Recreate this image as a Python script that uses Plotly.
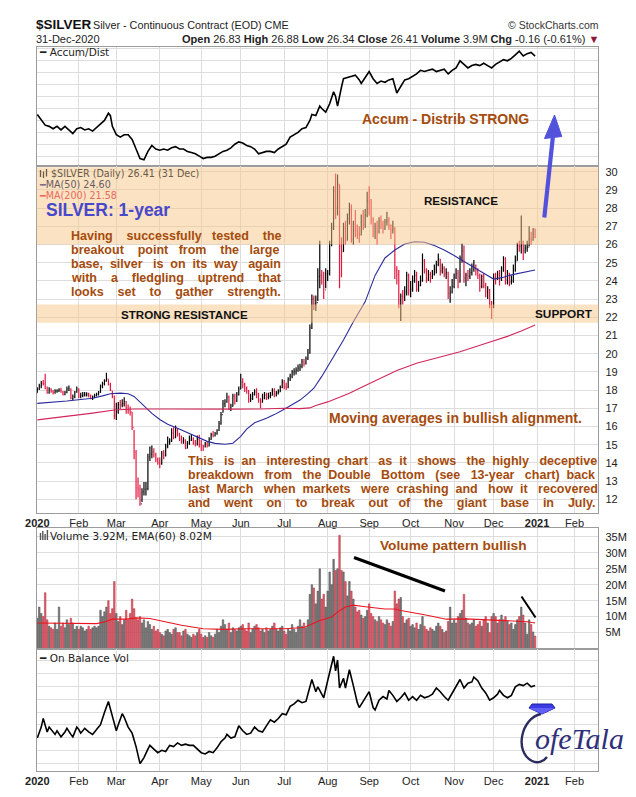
import pandas as pd
import plotly.graph_objects as go

# ---------------------------------------------------------------- data
holidays = ["2020-01-20", "2020-02-17", "2020-04-10", "2020-05-25", "2020-07-03",
            "2020-09-07", "2020-11-26", "2020-12-25", "2021-01-01", "2021-01-18",
            "2021-02-15"]

close_jan = [18.07, 18.21, 18.37, 18.35, 18.10, 17.86, 18.06, 17.93, 17.84, 17.93, 17.95, 18.02, 17.88, 17.77, 17.86, 18.07, 18.07, 17.53, 17.63, 17.88, 18.05]
high_jan = [18.15, 18.35, 18.50, 18.55, 18.90, 18.20, 18.15, 18.10, 18.00, 18.05, 18.05, 18.10, 18.12, 17.95, 17.95, 18.20, 18.25, 18.10, 17.75, 17.95, 18.20]
low_jan = [17.85, 18.00, 18.10, 18.25, 18.05, 17.80, 17.80, 17.85, 17.75, 17.80, 17.85, 17.90, 17.85, 17.70, 17.72, 17.82, 17.95, 17.50, 17.45, 17.55, 17.85]

close_feb = [17.67, 17.69, 17.74, 17.75, 17.78, 17.72, 17.55, 17.63, 17.70, 17.77, 17.87, 18.23, 18.35, 18.50, 18.62, 18.30, 17.99, 17.66, 16.58]
high_feb = [18.10, 17.85, 17.90, 17.90, 17.88, 17.85, 17.75, 17.70, 17.80, 17.85, 17.95, 18.30, 18.45, 18.60, 18.95, 18.60, 18.40, 17.95, 17.70]
low_feb = [17.55, 17.55, 17.60, 17.65, 17.65, 17.60, 17.50, 17.45, 17.55, 17.65, 17.70, 17.85, 18.10, 18.25, 18.45, 18.25, 17.95, 17.55, 16.40]

close_mar = [16.80, 17.20, 17.17, 17.25, 17.37, 17.05, 16.91, 16.80, 15.93, 14.57, 12.63, 12.56, 11.74, 12.40, 12.56, 12.59, 14.32, 14.46, 14.60, 14.45, 14.17, 14.00]
high_mar = [17.30, 17.35, 17.45, 17.50, 17.60, 17.40, 17.20, 17.10, 16.80, 15.80, 14.70, 13.20, 12.80, 12.60, 12.95, 12.95, 14.50, 14.90, 14.95, 14.80, 14.55, 14.30]
low_mar = [16.35, 16.70, 16.95, 17.05, 17.10, 16.70, 16.70, 16.60, 15.80, 14.20, 12.00, 12.10, 11.64, 11.85, 12.20, 12.20, 12.50, 14.10, 14.25, 14.30, 14.05, 13.90]

close_apr = [13.95, 14.50, 14.40, 14.90, 15.15, 15.20, 15.65, 15.40, 15.80, 15.60, 15.30, 15.20, 15.25, 14.80, 15.05, 15.25, 15.30, 15.10, 15.05, 15.30, 15.00]
high_apr = [14.30, 14.65, 14.70, 15.05, 15.45, 15.35, 15.90, 15.95, 16.05, 15.90, 15.65, 15.50, 15.40, 15.30, 15.20, 15.50, 15.55, 15.40, 15.25, 15.50, 15.55]
low_apr = [13.70, 13.90, 14.20, 14.35, 14.80, 15.00, 15.15, 15.30, 15.35, 15.45, 15.20, 15.05, 15.05, 14.75, 14.80, 15.00, 15.20, 15.00, 14.90, 14.95, 14.85]

close_may = [14.95, 14.90, 15.05, 14.95, 15.30, 15.55, 15.50, 15.60, 15.80, 16.15, 16.65, 17.25, 17.35, 17.60, 17.00, 17.10, 17.65, 17.40, 17.75, 18.05]
high_may = [15.25, 15.00, 15.15, 15.15, 15.40, 15.65, 15.75, 15.70, 15.85, 16.30, 16.80, 17.45, 17.50, 17.85, 17.70, 17.25, 17.80, 17.80, 17.90, 18.20]
low_may = [14.65, 14.65, 14.85, 14.85, 14.90, 15.25, 15.40, 15.45, 15.55, 15.75, 16.10, 16.75, 17.05, 17.30, 16.90, 16.85, 17.10, 17.20, 17.35, 17.70]

close_jun = [18.45, 18.30, 18.10, 17.95, 17.50, 17.55, 17.75, 17.90, 17.80, 17.45, 17.35, 17.55, 17.70, 17.60, 17.65, 17.70, 17.95, 17.75, 17.85, 17.90, 18.15, 18.45]
high_jun = [18.90, 18.65, 18.40, 18.20, 18.00, 17.80, 17.90, 18.05, 18.10, 17.85, 17.55, 17.80, 17.90, 17.85, 17.85, 17.90, 18.10, 18.10, 17.95, 18.05, 18.25, 18.60]
low_jun = [18.05, 18.10, 17.90, 17.80, 17.30, 17.35, 17.45, 17.70, 17.55, 17.30, 17.00, 17.30, 17.50, 17.45, 17.50, 17.55, 17.70, 17.60, 17.65, 17.75, 17.90, 18.10]

close_jul = [18.20, 18.15, 18.60, 18.75, 18.95, 19.00, 19.10, 19.20, 19.30, 19.55, 19.45, 19.75, 20.05, 21.40, 23.00, 22.75, 22.80, 24.25, 24.30, 24.20, 23.50, 24.40]
high_jul = [18.55, 18.40, 18.70, 18.90, 19.10, 19.20, 19.25, 19.40, 19.45, 19.70, 19.70, 19.85, 20.25, 21.60, 23.25, 23.20, 23.20, 24.70, 26.20, 24.60, 24.50, 24.70]
low_jul = [18.05, 18.00, 18.10, 18.50, 18.65, 18.80, 18.85, 19.00, 19.05, 19.20, 19.30, 19.40, 19.65, 20.00, 21.35, 22.40, 22.35, 22.90, 23.60, 23.80, 23.00, 23.60]

close_aug = [24.40, 26.00, 26.90, 28.90, 28.00, 29.30, 25.90, 25.60, 26.90, 26.25, 27.40, 27.90, 26.30, 27.10, 26.75, 26.60, 26.55, 27.25, 27.10, 27.60, 28.40]
high_aug = [24.60, 26.20, 27.20, 29.20, 29.90, 29.85, 29.30, 26.40, 27.20, 27.30, 27.70, 28.30, 28.20, 27.30, 27.90, 27.10, 27.00, 27.65, 27.90, 27.95, 28.90]
low_aug = [24.00, 24.30, 25.90, 26.80, 27.40, 27.60, 23.60, 24.20, 25.60, 26.00, 26.20, 27.10, 26.10, 26.00, 26.40, 26.30, 26.10, 26.50, 26.80, 26.90, 27.50]

close_sep = [28.30, 27.35, 26.70, 26.85, 26.70, 27.30, 27.10, 26.90, 27.25, 27.30, 27.05, 26.80, 26.90, 24.60, 24.35, 22.95, 23.15, 23.10, 23.40, 24.30, 23.50]
high_sep = [29.20, 28.50, 27.50, 27.20, 27.30, 27.50, 27.60, 27.30, 27.40, 27.80, 27.50, 27.10, 27.30, 26.95, 24.80, 24.60, 23.30, 23.50, 23.70, 24.50, 24.40]
low_sep = [27.60, 27.10, 26.40, 26.30, 26.00, 26.60, 26.85, 26.60, 26.80, 27.05, 26.80, 26.30, 26.60, 24.10, 23.80, 22.50, 21.80, 22.70, 22.90, 23.20, 23.20]

close_oct = [23.55, 24.00, 24.30, 23.55, 23.75, 24.00, 25.10, 24.55, 24.10, 24.35, 24.25, 24.35, 24.65, 24.90, 25.20, 24.55, 24.70, 24.40, 24.45, 23.30, 23.40, 23.70]
high_oct = [24.00, 24.30, 24.60, 24.50, 24.00, 24.30, 25.50, 25.20, 24.70, 24.60, 24.50, 24.60, 24.90, 25.10, 25.50, 25.20, 24.95, 24.80, 24.70, 24.50, 23.70, 24.10]
low_oct = [23.10, 23.40, 23.90, 23.40, 23.40, 23.70, 23.95, 24.40, 23.90, 24.00, 23.90, 24.10, 24.30, 24.40, 24.80, 24.30, 24.40, 24.20, 24.10, 23.00, 22.80, 23.30]

close_nov = [24.20, 24.40, 23.95, 25.25, 25.65, 24.15, 24.30, 24.25, 24.45, 24.80, 24.85, 24.55, 24.30, 23.70, 24.25, 23.75, 23.40, 23.50, 22.70, 22.55]
high_nov = [24.40, 24.70, 24.60, 25.40, 26.05, 25.95, 24.45, 24.60, 24.70, 24.95, 25.15, 24.90, 24.70, 24.40, 24.35, 24.40, 23.90, 23.70, 23.55, 22.90]
low_nov = [23.60, 24.10, 23.60, 23.90, 25.00, 23.90, 23.70, 24.00, 24.10, 24.30, 24.50, 24.30, 24.10, 23.40, 23.60, 23.60, 23.10, 23.00, 22.50, 21.90]

close_dec = [24.20, 24.15, 24.35, 24.10, 24.65, 25.20, 24.05, 24.40, 23.95, 24.00, 24.60, 25.10, 25.95, 25.90, 25.95, 25.65, 25.80, 25.85, 26.30, 26.25, 26.57, 26.41]
high_dec = [24.40, 24.45, 24.55, 24.60, 24.80, 25.35, 25.30, 24.60, 24.45, 24.30, 24.90, 25.40, 26.10, 26.20, 27.60, 26.20, 26.00, 26.20, 27.00, 26.70, 26.90, 26.88]
low_dec = [22.50, 23.80, 24.05, 23.75, 24.00, 24.50, 23.80, 23.80, 23.70, 23.80, 23.90, 24.50, 25.10, 25.60, 25.50, 25.15, 25.50, 25.60, 25.90, 26.00, 26.20, 26.34]

prev_close_2019 = 17.85
last_open = 26.83

# volume, millions
vol_jan = [9.5, 13, 11, 10, 17.5, 9, 7, 6.5, 6, 8, 6, 13, 7, 8, 6.5, 9, 7.5, 9.5, 8, 6, 7]
vol_feb = [6, 7, 6.5, 5.5, 6, 7, 6, 6.5, 7, 6.5, 7, 12, 10, 11.5, 13, 15, 11, 12.5, 21]
vol_mar = [11, 8.5, 10, 7.5, 9, 12, 9, 11, 15.5, 12.5, 9.5, 9, 10, 8, 9, 6.5, 8.5, 7.5, 6, 7, 5.5, 6]
vol_apr = [5, 4.5, 4, 5.5, 6, 5, 4.5, 6, 6.5, 5, 5, 4, 5.5, 6, 4.5, 4, 3.5, 4.5, 4, 5, 6]
vol_may = [4.5, 3.5, 4, 3.5, 5, 4, 3.5, 4.5, 6, 5, 7, 9, 7.5, 6, 8, 5, 6.5, 6, 5.5, 6.5]
vol_jun = [7, 7.5, 6, 5.5, 8, 5, 6, 7, 7.5, 6.5, 5.5, 6, 5, 6.5, 5.5, 6, 7, 8, 6, 5.5, 6.5, 7]
vol_jul = [5.5, 4.5, 6, 5.5, 7.5, 6, 5, 7, 9, 7, 8, 6.5, 9, 17, 20, 19, 14, 18, 25, 15.5, 17, 13]
vol_aug = [18, 24, 20, 28, 24.5, 25, 35.5, 24.5, 24, 21, 16.5, 21, 18, 15.5, 13, 11.5, 12, 10.5, 9.5, 10, 12]
vol_sep = [14, 11, 10, 9, 8.5, 10, 9, 8, 7.5, 9, 8, 7, 8.5, 18, 14, 15.5, 16, 10, 8, 9, 9.5]
vol_oct = [7, 7.5, 6.5, 8, 6, 7.5, 10, 7, 6, 5.5, 6.5, 6, 5.5, 7, 8, 7, 6, 5, 5.5, 8.5, 13, 8]
vol_nov = [9, 8, 10, 11, 12, 17, 9.5, 8, 7.5, 8, 9, 7, 7.5, 8.5, 7, 9, 10, 8, 5, 10]
vol_dec = [11, 10, 8, 9, 10.5, 9, 10, 8.5, 7.5, 8, 6, 7.5, 9, 10, 13, 10.5, 8, 4.5, 9, 7.5, 5.2, 3.92]

# moving averages (session number, value)
ma50_session = [0, 8, 15, 22, 28, 33, 37, 42, 46, 49, 52, 55, 58, 62, 66, 71, 76, 82, 86, 90, 95, 99, 103, 106, 110, 116, 120, 125, 129, 133, 137, 140, 144, 148, 152, 155, 160, 166, 171, 176, 181, 186, 191, 196, 201, 206, 211, 216, 221, 226, 231, 236, 240, 246, 252]
ma50_value = [17.27, 17.33, 17.40, 17.48, 17.55, 17.68, 17.80, 17.83, 17.80, 17.65, 17.35, 17.00, 16.72, 16.38, 16.12, 15.90, 15.65, 15.36, 15.18, 15.07, 15.02, 15.08, 15.45, 15.85, 16.20, 16.45, 16.65, 16.95, 17.18, 17.45, 17.80, 18.10, 18.75, 19.45, 20.15, 20.75, 21.75, 22.86, 24.30, 25.26, 25.70, 26.03, 26.15, 26.12, 25.95, 25.70, 25.40, 25.06, 24.75, 24.42, 24.10, 24.20, 24.33, 24.45, 24.60]
ma200_session = [0, 15, 28, 39, 49, 66, 88, 99, 113, 125, 133, 138, 141, 147, 153, 158, 165, 172, 182, 192, 203, 214, 228, 238, 245, 252]
ma200_value = [16.36, 16.54, 16.73, 16.90, 16.96, 16.96, 16.94, 16.95, 16.96, 17.00, 16.98, 17.02, 17.15, 17.35, 17.60, 17.82, 18.20, 18.55, 19.07, 19.47, 19.80, 20.11, 20.60, 20.95, 21.25, 21.58]

# volume EMA(60), millions
ema_session = [0, 10, 22, 30, 34, 38, 45, 50, 57, 65, 73, 84, 95, 104, 115, 125, 135, 139, 143, 149, 152, 156, 160, 166, 176, 181, 184, 196, 207, 217, 227, 238, 248, 252]
ema_value = [8.0, 8.0, 8.0, 7.8, 8.3, 9.2, 9.2, 9.6, 9.4, 8.4, 7.3, 6.2, 6.0, 6.2, 6.2, 6.2, 6.6, 7.8, 8.8, 9.9, 11.4, 13.0, 13.6, 13.1, 12.4, 12.4, 11.9, 10.6, 9.2, 9.3, 9.0, 8.8, 8.4, 8.02]

# Accum/Dist (relative units, 0-100 of panel)
ad_session = [0, 2, 4, 6, 8, 10, 12, 14, 16, 18, 20, 22, 24, 26, 28, 30, 32, 34, 36, 37, 38, 40, 42, 44, 46, 48, 50, 52, 54, 56, 58, 60, 62, 64, 66, 68, 70, 72, 74, 76, 78, 80, 82, 84, 86, 88, 90, 92, 94, 96, 98, 100, 102, 104, 106, 108, 110, 112, 114, 116, 118, 120, 122, 124, 126, 128, 130, 132, 134, 136, 138, 139, 141, 143, 144, 146, 148, 150, 151, 152, 154, 155, 157, 159, 161, 163, 164, 166, 168, 170, 172, 174, 176, 178, 180, 182, 184, 186, 188, 190, 192, 194, 196, 198, 200, 202, 204, 206, 208, 210, 212, 214, 216, 218, 220, 222, 224, 226, 228, 230, 232, 234, 236, 238, 240, 242, 244, 246, 248, 250, 252]
ad_value = [43, 38, 34, 33, 31, 33, 30, 33, 30, 27, 31, 32, 30, 31, 29, 32, 35, 38, 44, 42, 33, 26, 24, 26, 26, 22, 14, 6, 5, 12, 17, 14, 13, 14, 13, 15, 16, 14, 14, 12, 11, 10, 8, 6, 7, 7, 8, 10, 12, 13, 15, 18, 20, 19, 17, 16, 14, 10, 11, 12, 12, 11, 14, 16, 18, 24, 26, 28, 31, 32, 38, 43, 42, 50, 48, 45, 52, 62, 58, 50, 66, 73, 74, 75, 76, 72, 69, 74, 79, 73, 69, 71, 70, 72, 73, 61, 66, 72, 73, 75, 77, 80, 79, 80, 81, 79, 80, 81, 77, 80, 82, 88, 85, 82, 84, 85, 84, 86, 84, 82, 85, 87, 89, 88, 90, 93, 96, 92, 94, 95, 92]

# On Balance Volume (relative units)
obv_session = [0, 2, 3, 5, 6, 7, 9, 10, 12, 14, 15, 17, 18, 20, 21, 22, 24, 26, 28, 30, 32, 34, 36, 38, 40, 41, 43, 44, 46, 48, 50, 52, 54, 56, 57, 59, 61, 63, 65, 67, 69, 71, 73, 75, 77, 79, 81, 83, 85, 87, 89, 91, 93, 95, 96, 98, 100, 102, 104, 106, 108, 110, 112, 114, 116, 118, 120, 122, 124, 126, 128, 130, 132, 134, 136, 138, 139, 141, 142, 143, 145, 147, 149, 150, 151, 152, 153, 155, 156, 158, 160, 162, 163, 165, 167, 168, 170, 171, 173, 175, 177, 178, 180, 182, 184, 186, 188, 190, 192, 194, 196, 198, 200, 202, 204, 206, 208, 210, 212, 214, 216, 218, 220, 221, 223, 225, 227, 229, 231, 233, 234, 236, 238, 240, 242, 244, 246, 248, 250, 252]
obv_value = [27, 36, 43, 32, 36, 34, 30, 33, 28, 32, 35, 30, 28, 36, 34, 31, 35, 32, 30, 34, 38, 48, 57, 45, 33, 38, 47, 44, 36, 31, 20, 6, 11, 18, 21, 18, 15, 17, 16, 21, 20, 23, 21, 22, 21, 21, 18, 15, 14, 16, 15, 19, 24, 27, 30, 27, 28, 37, 33, 30, 31, 36, 33, 32, 37, 42, 40, 43, 47, 46, 53, 55, 58, 56, 57, 68, 75, 65, 69, 66, 60, 74, 88, 94, 82, 91, 68, 76, 68, 83, 70, 56, 52, 57, 62, 65, 52, 50, 58, 61, 59, 66, 62, 57, 60, 64, 58, 61, 58, 62, 60, 61, 63, 68, 65, 61, 58, 64, 69, 75, 68, 72, 73, 77, 74, 68, 64, 58, 60, 63, 66, 62, 60, 62, 69, 71, 70, 72, 69, 70]

price_ticks = list(range(12, 31))
vol_ticks = [5, 10, 15, 20, 25, 30, 35]
resistance_zone = (26.0, 30.25)
support_zone = (21.7, 22.7)

# ---------------------------------------------------------------- series assembly
closes = (close_jan + close_feb + close_mar + close_apr + close_may + close_jun +
          close_jul + close_aug + close_sep + close_oct + close_nov + close_dec)
highs = (high_jan + high_feb + high_mar + high_apr + high_may + high_jun +
         high_jul + high_aug + high_sep + high_oct + high_nov + high_dec)
lows = (low_jan + low_feb + low_mar + low_apr + low_may + low_jun +
        low_jul + low_aug + low_sep + low_oct + low_nov + low_dec)
volumes = (vol_jan + vol_feb + vol_mar + vol_apr + vol_may + vol_jun +
           vol_jul + vol_aug + vol_sep + vol_oct + vol_nov + vol_dec)
opens = [prev_close_2019] + closes[:-1]
opens[-1] = last_open

cal = pd.bdate_range("2020-01-02", "2021-02-26")
cal = cal[~cal.isin(pd.to_datetime(holidays))]
n_2020 = int((cal <= "2020-12-31").sum())
assert n_2020 == len(closes) == len(highs) == len(lows) == len(volumes)
sessions = list(range(n_2020))

month_sessions, month_labels = [], []
prev = None
for i, d in enumerate(cal):
    key = (d.year, d.month)
    if key != prev:
        month_sessions.append(i)
        month_labels.append(f"<b>{d.year}</b>" if d.month == 1 else d.strftime("%b"))
        prev = key

prev_c = [prev_close_2019] + closes[:-1]
vol_fill = ["#E2606E" if c < p else "#7C7C7C" for c, p in zip(closes, prev_c)]
vol_edge = ["#B02A3A" if c < p else "#4A4A4A" for c, p in zip(closes, prev_c)]

# ---------------------------------------------------------------- geometry helpers
W, H = 636, 797
def fx(px):
    return px / W
def fy(py):
    return 1 - py / H

X0, X1 = 36.7, 598.3
AD_T, AD_B = 46.5, 165.7
PR_T, PR_B = 165.7, 512.7
VO_T, VO_B = 528.3, 648.5
OB_T, OB_B = 648.5, 771.0

GRID = "#DDDDDD"
FRAME = "#9C9C9C"
BROWN = "#A54B0C"

# ---------------------------------------------------------------- traces
fig = go.Figure()
fig.add_trace(go.Scatter(x=ad_session, y=ad_value, xaxis="x", yaxis="y", mode="lines",
                         line=dict(color="#000000", width=1.6), hoverinfo="skip"))
fig.add_trace(go.Ohlc(x=sessions, open=opens, high=highs, low=lows, close=closes,
                      xaxis="x2", yaxis="y2", tickwidth=0.35,
                      increasing=dict(line=dict(color="#000000", width=1.2)),
                      decreasing=dict(line=dict(color="#E3173E", width=1.2)),
                      hoverinfo="skip"))
fig.add_trace(go.Scatter(x=ma50_session, y=ma50_value, xaxis="x2", yaxis="y2", mode="lines",
                         line=dict(color="#2B2B9E", width=1.1), hoverinfo="skip"))
fig.add_trace(go.Scatter(x=ma200_session, y=ma200_value, xaxis="x2", yaxis="y2", mode="lines",
                         line=dict(color="#D0285A", width=1.1), hoverinfo="skip"))
fig.add_trace(go.Bar(x=sessions, y=volumes, xaxis="x3", yaxis="y3", width=0.78,
                     marker=dict(color=vol_fill, line=dict(color=vol_edge, width=0.5)),
                     hoverinfo="skip"))
fig.add_trace(go.Scatter(x=ema_session, y=ema_value, xaxis="x3", yaxis="y3", mode="lines",
                         line=dict(color="#E8161E", width=1.1), hoverinfo="skip"))
fig.add_trace(go.Scatter(x=obv_session, y=obv_value, xaxis="x4", yaxis="y4", mode="lines",
                         line=dict(color="#000000", width=1.6), hoverinfo="skip"))

# ---------------------------------------------------------------- axes
xr = [-0.3, 284.0]
def xaxis(labels, anchor):
    return dict(domain=[fx(X0), fx(X1)], range=xr, anchor=anchor, tickmode="array",
                tickvals=month_sessions, ticktext=month_labels, showticklabels=labels,
                showgrid=True, gridcolor=GRID, gridwidth=1, zeroline=False,
                showline=True, linecolor=FRAME, linewidth=1, mirror=True, ticks="",
                tickfont=dict(family="Liberation Sans", size=11, color="#222222"),
                fixedrange=True, rangeslider=dict(visible=False), automargin=False)

def yaxis(top, bottom, rng, tickvals, ticktext=None, labels=False, anchor="x"):
    d = dict(domain=[fy(bottom), fy(top)], range=rng, anchor=anchor, side="right",
             tickmode="array", tickvals=tickvals, showticklabels=labels,
             showgrid=True, gridcolor=GRID, gridwidth=1, zeroline=False,
             showline=True, linecolor=FRAME, linewidth=1, mirror=True, ticks="",
             tickfont=dict(family="Liberation Sans", size=11, color="#222222"),
             ticklabelstandoff=4, fixedrange=True, automargin=False)
    if ticktext is not None:
        d["ticktext"] = ticktext
    return d

ad_grid = [8 + 10 * k for k in range(10)]
obv_grid = [6.3 + 10.5 * k for k in range(10)]

fig.update_layout(
    width=W, height=H, margin=dict(l=0, r=0, t=0, b=0, pad=0),
    paper_bgcolor="white", plot_bgcolor="white", showlegend=False,
    font=dict(family="Liberation Sans", size=11, color="#222222"),
    bargap=0.2,
    xaxis=xaxis(False, "y"),
    xaxis2=xaxis(True, "y2"),
    xaxis3=xaxis(False, "y3"),
    xaxis4=xaxis(True, "y4"),
    yaxis=yaxis(AD_T, AD_B, [0, 100], ad_grid, anchor="x"),
    yaxis2=yaxis(PR_T, PR_B, [11.26, 30.33], price_ticks, [str(t) for t in price_ticks], True, "x2"),
    yaxis3=yaxis(VO_T, VO_B, [0, 37.7], vol_ticks, [f"{t}M" for t in vol_ticks], True, "x3"),
    yaxis4=yaxis(OB_T, OB_B, [0, 100.4], obv_grid, anchor="x4"),
)

# ---------------------------------------------------------------- shapes
shapes = []
for lo, hi in (resistance_zone, support_zone):
    shapes.append(dict(type="rect", xref="x2 domain", yref="y2", x0=0, x1=1, y0=lo, y1=hi,
                       fillcolor="rgb(247,197,133)", opacity=0.5, line=dict(width=0),
                       layer="above"))
# blue arrow
shapes.append(dict(type="line", xref="paper", yref="paper", x0=fx(544.3), y0=fy(217.5),
                   x1=fx(552.8), y1=fy(137.5), line=dict(color="#5252DC", width=4.2), layer="above"))
shapes.append(dict(type="path", xref="paper", yref="paper",
                   path=f"M {fx(544.5)},{fy(138.5)} L {fx(554.5)},{fy(115)} L {fx(561.8)},{fy(136.5)} Z",
                   fillcolor="#5252DC", line=dict(color="#5252DC", width=1), layer="above"))
# volume trend lines
shapes.append(dict(type="line", xref="paper", yref="paper", x0=fx(354), y0=fy(557.5),
                   x1=fx(445), y1=fy(591), line=dict(color="#000000", width=3), layer="above"))
shapes.append(dict(type="line", xref="paper", yref="paper", x0=fx(521.5), y0=fy(596.5),
                   x1=fx(535.5), y1=fy(617.5), line=dict(color="#000000", width=2), layer="above"))
# small legend icons (price bars / volume bars)
for k, (h0, h1) in enumerate([(170, 177), (171.5, 178), (169, 176.5)]):
    xx = 40.5 + 3 * k
    shapes.append(dict(type="line", xref="paper", yref="paper", x0=fx(xx), x1=fx(xx),
                       y0=fy(h0), y1=fy(h1), line=dict(color="#6A5A48", width=1.3), layer="above"))
for k, h0 in enumerate([533, 531, 534, 530]):
    xx = 40.5 + 2.3 * k
    shapes.append(dict(type="line", xref="paper", yref="paper", x0=fx(xx), x1=fx(xx),
                       y0=fy(h0), y1=fy(540), line=dict(color="#555555", width=1.4), layer="above"))
# logo: ring swoosh and diamond
shapes.append(dict(type="path", xref="paper", yref="paper",
                   path=(f"M {fx(541)},{fy(714)} C {fx(521)},{fy(718)} {fx(514)},{fy(752)} {fx(532)},{fy(761)} "
                         f"C {fx(538)},{fy(764)} {fx(544)},{fy(761)} {fx(547)},{fy(757)}"),
                   line=dict(color="#2C2C5E", width=2.4), layer="above"))
shapes.append(dict(type="path", xref="paper", yref="paper",
                   path=(f"M {fx(532)},{fy(704)} L {fx(552)},{fy(704)} L {fx(555)},{fy(708)} "
                         f"L {fx(542)},{fy(714)} L {fx(529)},{fy(708)} Z"),
                   fillcolor="#3C3CE4", line=dict(color="#1E1EA8", width=1), layer="above"))
shapes.append(dict(type="path", xref="paper", yref="paper",
                   path=f"M {fx(529)},{fy(708)} L {fx(555)},{fy(708)} L {fx(542)},{fy(714)} Z",
                   fillcolor="#6060F6", line=dict(width=0), layer="above"))
fig.update_layout(shapes=shapes)

# ---------------------------------------------------------------- annotations
ann = []
def text(s, x, y, size, color="#222222", anchor="left", family="Liberation Sans"):
    ann.append(dict(text=s, x=fx(x), y=fy(y), xref="paper", yref="paper", xanchor=anchor,
                    yanchor="middle", showarrow=False, borderpad=0, borderwidth=0,
                    font=dict(family=family, size=size, color=color)))

AW = {" ": 278, "!": 333, "(": 333, ")": 333, ",": 278, "-": 333, ".": 278, ":": 333,
      "A": 722, "B": 722, "C": 722, "D": 722, "E": 667, "F": 611, "G": 778, "H": 722,
      "I": 278, "J": 556, "K": 722, "L": 611, "M": 833, "N": 722, "O": 778, "P": 667,
      "Q": 778, "R": 722, "S": 667, "T": 611, "U": 722, "V": 667, "W": 944, "X": 667,
      "Y": 667, "Z": 611, "a": 556, "b": 611, "c": 556, "d": 611, "e": 556, "f": 333,
      "g": 611, "h": 611, "i": 278, "j": 278, "k": 556, "l": 278, "m": 889, "n": 611,
      "o": 611, "p": 611, "q": 611, "r": 389, "s": 556, "t": 333, "u": 611, "v": 556,
      "w": 778, "x": 556, "y": 556, "z": 500}

def tw(s, size):
    return sum(AW.get(ch, 556) for ch in s) * size / 1000

def justified(line, xl, xr_, y, size, color):
    """One annotation per line; word gaps widened with non-breaking spaces."""
    words = line.split(" ")
    ws = [tw(w, size) for w in words]
    sp = tw(" ", size)
    gap = (xr_ - xl - sum(ws)) / (len(words) - 1)
    out = words[0]
    pos = target = xl + ws[0]
    for w, wd in zip(words[1:], ws[1:]):
        target += gap
        n = max(1, round((target - pos) / sp))
        out += "\u00a0" * n + w
        pos += n * sp + wd
        target += wd
    text(f"<b>{out}</b>", xl, y, size, color)

# header
text("<b>$SILVER</b>", 35.5, 25, 13.5, "#111111")
text("Silver - Continuous Contract (EOD) CME", 93, 25.5, 10.8, "#222222")
text("© StockCharts.com", 598.5, 25.5, 10.5, "#333333", anchor="right")
text("31-Dec-2020", 36, 38.5, 11, "#222222")
text("<b>Open</b> 26.83 <b>High</b> 26.88 <b>Low</b> 26.34 <b>Close</b> 26.41 "
     "<b>Volume</b> 3.9M <b>Chg</b> -0.16 (-0.61%) <span style='color:#8B1A3A'>▼</span>",
     598.5, 38.5, 11, "#222222", anchor="right")

# panel legends
text("<b>━</b> Accum/Dist", 38.5, 52, 10.5, "#222222", family="DejaVu Sans")
text("$SILVER (Daily) 26.41 (31 Dec)", 51, 173.8, 9.6, "#6A5A48", family="DejaVu Sans")
text("<span style='color:#7A6A88'>━</span>MA(50) 24.60", 39, 184.6, 9.6, "#6A5A60", family="DejaVu Sans")
text("<span style='color:#EE6A5C'>━</span>MA(200) 21.58", 39, 195.4, 9.6, "#E86A5A", family="DejaVu Sans")
text("Volume 3.92M, EMA(60) 8.02M", 50, 535.5, 10.5, "#222222", family="DejaVu Sans")
text("<b>━</b> On Balance Vol", 38.5, 657.5, 10.5, "#222222", family="DejaVu Sans")

# commentary
text("<b>SILVER: 1-year</b>", 45.5, 210, 17.5, "#4848CB")
para1 = ["Having successfully tested the", "breakout point from the large",
         "base, silver is on its way again", "with a fledgling uptrend that",
         "looks set to gather strength."]
for k, line in enumerate(para1):
    justified(line, 71, 280, 236.3 + 14 * k, 12.5, BROWN)
para2 = ["This is an interesting chart as it shows the highly deceptive",
         "breakdown from the Double Bottom (see 13-year chart) back",
         "last March when markets were crashing and how it recovered",
         "and went on to break out of the giant base in July."]
for k, line in enumerate(para2):
    justified(line, 188.3, 596.7, 461 + 14.1 * k, 12.5, BROWN)

text("<b>STRONG RESISTANCE</b>", 184, 314.5, 11.6, "#111111", anchor="center")
text("<b>RESISTANCE</b>", 460.5, 200.7, 11.6, "#111111", anchor="center")
text("<b>SUPPORT</b>", 563.5, 313.5, 11.8, "#111111", anchor="center")
text("<b>Moving averages in bullish alignment.</b>", 456, 418.3, 14, BROWN, anchor="center")
text("<b>Accum - Distrib STRONG</b>", 445, 119, 14, BROWN, anchor="center")
text("<b>Volume pattern bullish</b>", 454, 545, 13.7, BROWN, anchor="center")

# logo text
text("<i>ofeTala</i>", 535, 738, 30, "#30307A", family="Liberation Serif")

fig.update_layout(annotations=ann)
fig.write_html("out.html", config={"displayModeBar": False, "staticPlot": True},
               post_script="document.body.style.margin='0';document.body.style.padding='0';"
                           "document.body.style.overflow='hidden';")
